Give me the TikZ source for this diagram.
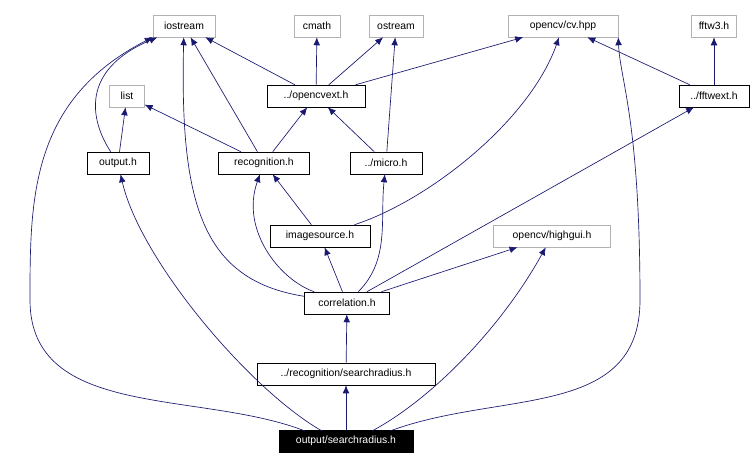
\documentclass[tikz,border=0pt]{standalone}
\usepackage{fontspec}
\setmainfont{Liberation Sans}
\usetikzlibrary{arrows.meta}
\definecolor{edge}{HTML}{191970}
\begin{document}
\begin{tikzpicture}[x=0.75pt,y=-0.75pt,
 n/.style={draw=black,fill=white,inner sep=0pt,minimum height=16.5pt,font=\fontsize{7.8}{9}\selectfont},
 g/.style={n,draw=gray!60},
 e/.style={draw=edge,-{Latex[length=6pt,width=5pt]},line width=0.5pt}]
\useasboundingbox (0,0) rectangle (753,470);
\node[g,minimum width=46.5pt] (io) at (184,26) {iostream};
\node[g,minimum width=34.5pt] (cm) at (317,26) {cmath};
\node[g,minimum width=40.5pt] (os) at (396,26) {ostream};
\node[g,minimum width=82.5pt] (cv) at (563,26) {opencv/cv.hpp};
\node[g,minimum width=34pt] (fw) at (714,26) {fftw3.h};
\node[g,minimum width=26pt] (li) at (127,96) {list};
\node[n,minimum width=73.5pt] (oe) at (316,96) {../opencvext.h};
\node[n,minimum width=52.5pt] (fe) at (714,96) {../fftwext.h};
\node[n,minimum width=46.5pt] (oh) at (118,163) {output.h};
\node[n,minimum width=68pt] (re) at (264,163) {recognition.h};
\node[n,minimum width=54pt] (mi) at (386,163) {../micro.h};
\node[n,minimum width=75pt] (im) at (320,236) {imagesource.h};
\node[g,minimum width=87.5pt] (hg) at (552,236) {opencv/highgui.h};
\node[n,minimum width=63.5pt] (co) at (347,303) {correlation.h};
\node[n,minimum width=133.5pt] (rs) at (346,374) {../recognition/searchradius.h};
\node[n,fill=black,text=white,minimum width=100.5pt] (os2) at (346,441) {output/searchradius.h};
\coordinate (b1) at (322,431);
\coordinate (b2) at (372,431);
\draw[e] (b1) .. controls (250,390) and (140,260) .. (oh);
\draw[e] (305,431) .. controls (200,390) and (30,420) .. (30,300) .. controls (30,200) and (30,100) .. (io.south west);
\draw[e] (os2) -- (rs);
\draw[e] (b2) .. controls (430,400) and (500,330) .. (hg);
\draw[e] (390,431) .. controls (500,390) and (640,420) .. (640,300) .. controls (640,120) and (620,80) .. (cv.south east);
\draw[e] (rs) -- (co);
\draw[e] (co) -- (im);
\draw[e] (co) .. controls (280,280) and (240,230) .. (re);
\draw[e] (co) .. controls (200,280) and (180,200) .. (io);
\draw[e] (co) .. controls (390,260) and (380,220) .. (mi);
\draw[e] (co) -- (hg);
\draw[e] (co) -- (fe);
\draw[e] (im) -- (re);
\draw[e] (im) .. controls (430,200) and (530,120) .. (cv);
\draw[e] (re) -- (li);
\draw[e] (re) -- (io);
\draw[e] (re) -- (oe);
\draw[e] (mi) -- (os);
\draw[e] (mi) -- (oe);
\draw[e] (oh) -- (li);
\draw[e] (oh) .. controls (90,120) and (80,70) .. (io);
\draw[e] (oe) -- (io);
\draw[e] (oe) -- (cm);
\draw[e] (oe) -- (os);
\draw[e] (oe) -- (cv);
\draw[e] (fe) -- (cv);
\draw[e] (fe) -- (fw);
\end{tikzpicture}
\end{document}
